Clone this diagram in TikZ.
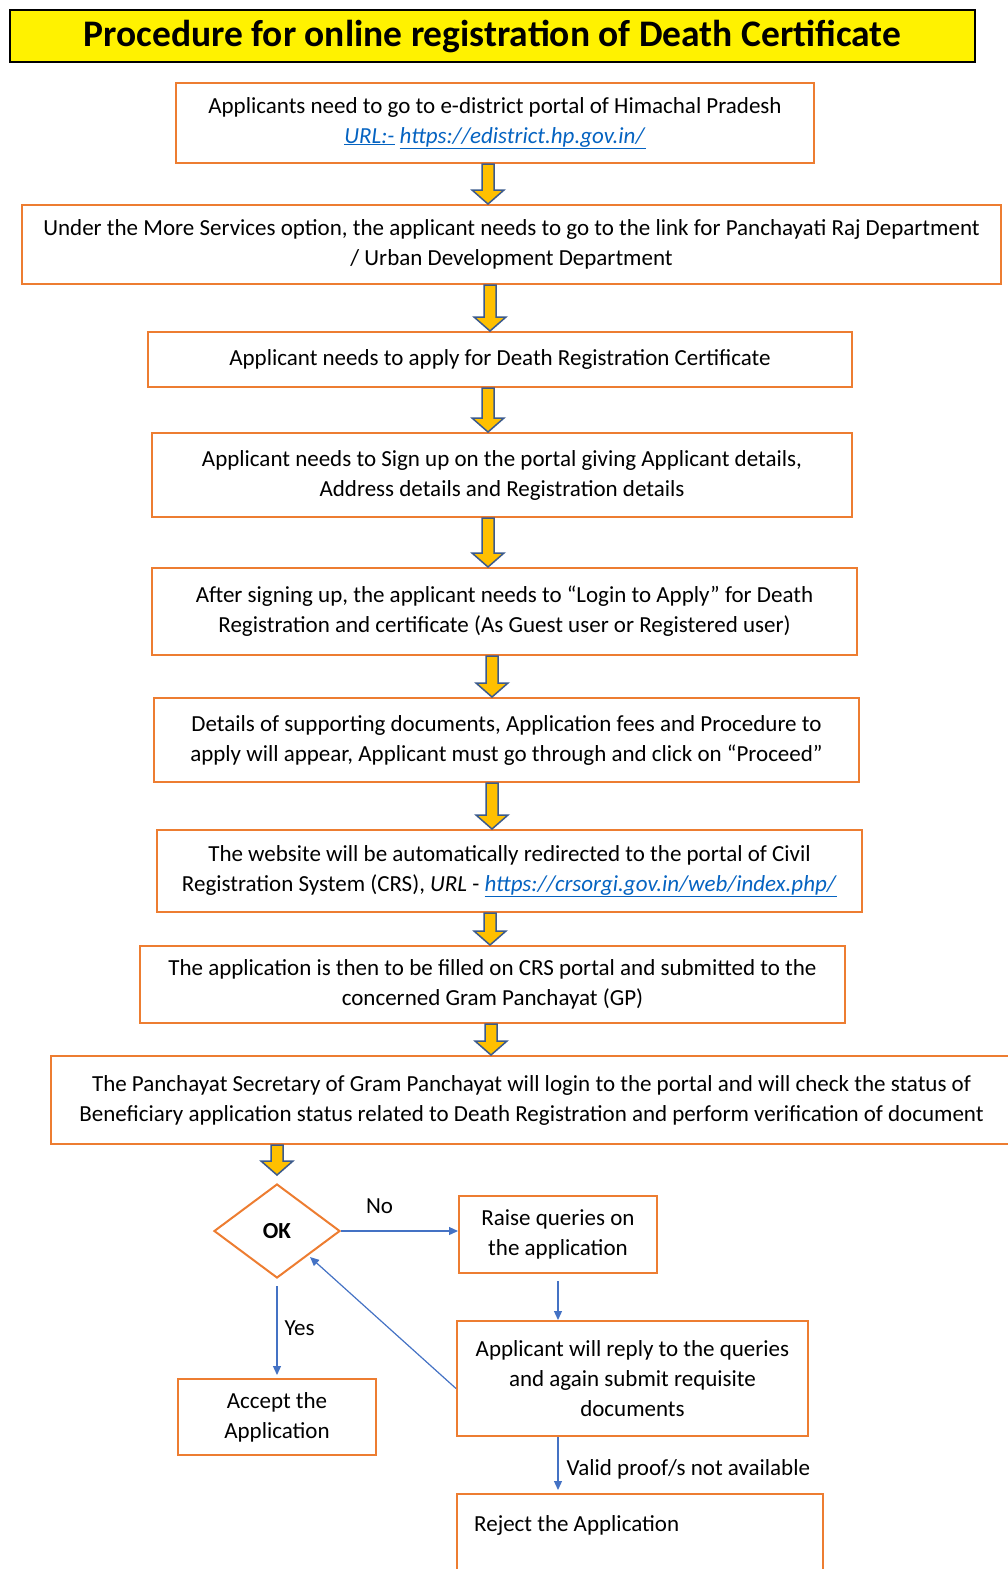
\documentclass[tikz,border=0pt]{standalone}
\usepackage{fontspec}
\setmainfont{Carlito}
\usetikzlibrary{shapes.geometric, arrows.meta, calc}

\newcommand{\weblink}[1]{\textcolor{linkblue}{\underline{\textit{#1}}}}
\newcommand{\yarrow}[3]{%
  \filldraw[blockarrow] let \p1 = (#1, 0), \p2 = (#2), \p3 = (#3) in
    (\x1 - 6pt, \y2) -- (\x1 + 6pt, \y2) -- (\x1 + 6pt, \y3 + 14pt)
    -- (\x1 + 16pt, \y3 + 14pt) -- (\x1, \y3) -- (\x1 - 16pt, \y3 + 14pt)
    -- (\x1 - 6pt, \y3 + 14pt) -- cycle;}

\begin{document}
\begin{tikzpicture}[x=1pt, y=-1pt,
    procbox/.style={draw=boxorange, line width=2pt, rectangle, inner sep=0pt,
        align=center, font=\fontsize{23}{30}\selectfont},
    decision/.style={draw=boxorange, line width=2pt, diamond, inner sep=0pt,
        font=\fontsize{23}{26}\selectfont\bfseries},
    blockarrow/.style={fill=arrowyellow, draw=arrowedge, line width=1.5pt},
    flowline/.style={draw=lineblue, line width=1.2pt, -{Triangle[length=9pt, width=8pt]}},
    flowlabel/.style={font=\fontsize{23}{26}\selectfont, inner sep=0pt}]
\definecolor{boxorange}{HTML}{ED7D31}
\definecolor{arrowyellow}{HTML}{FFC000}
\definecolor{arrowedge}{HTML}{3B5A8C}
\definecolor{lineblue}{HTML}{4472C4}
\definecolor{linkblue}{HTML}{0563C1}

\useasboundingbox (0, 0) rectangle (1008, 1569);

\node[draw=black, line width=2pt, fill=yellow, minimum width=965pt, minimum height=52pt,
    font=\fontsize{37.5}{40}\selectfont\bfseries] (title) at (492.5, 36)
    {Procedure for online registration of Death Certificate};

\node[procbox, minimum width=638pt, minimum height=80pt] (portal) at (495, 123)
    {Applicants need to go to e-district portal of Himachal Pradesh\\
     \weblink{URL:-} \weblink{https://edistrict.hp.gov.in/}};
\node[procbox, minimum width=979pt, minimum height=79pt] (services) at (511.5, 244.5)
    {Under the More Services option, the applicant needs to go to the link for Panchayati Raj Department\\
     / Urban Development Department};
\node[procbox, minimum width=704pt, minimum height=55pt] (apply) at (500, 359.5)
    {Applicant needs to apply for Death Registration Certificate};
\node[procbox, minimum width=700pt, minimum height=84pt] (signup) at (502, 475)
    {Applicant needs to Sign up on the portal giving Applicant details,\\
     Address details and Registration details};
\node[procbox, minimum width=705pt, minimum height=87pt] (login) at (504.5, 611.5)
    {After signing up, the applicant needs to “Login to Apply” for Death\\
     Registration and certificate (As Guest user or Registered user)};
\node[procbox, minimum width=705pt, minimum height=84pt] (details) at (506.5, 740)
    {Details of supporting documents, Application fees and Procedure to\\
     apply will appear, Applicant must go through and click on “Proceed”};
\node[procbox, minimum width=705pt, minimum height=82pt] (redirect) at (509.5, 871)
    {The website will be automatically redirected to the portal of Civil\\
     Registration System (CRS), \textit{URL} - \weblink{https://crsorgi.gov.in/web/index.php/}};
\node[procbox, minimum width=705pt, minimum height=77pt] (submit) at (492.5, 984.5)
    {The application is then to be filled on CRS portal and submitted to the\\
     concerned Gram Panchayat (GP)};
\node[procbox, minimum width=961pt, minimum height=88pt] (verify) at (531.5, 1100)
    {The Panchayat Secretary of Gram Panchayat will login to the portal and will check the status of\\
     Beneficiary application status related to Death Registration and perform verification of document};

\yarrow{488}{portal.south}{services.north}
\yarrow{490}{services.south}{apply.north}
\yarrow{488}{apply.south}{signup.north}
\yarrow{488}{signup.south}{login.north}
\yarrow{492}{login.south}{details.north}
\yarrow{492}{details.south}{redirect.north}
\yarrow{490}{redirect.south}{submit.north}
\yarrow{491}{submit.south}{verify.north}

\node[decision, minimum width=126pt, minimum height=94pt] (ok) at (277, 1231) {OK};
\yarrow{277}{verify.south}{[yshift=8pt]ok.north}

\node[procbox, minimum width=198pt, minimum height=77pt] (queries) at (558, 1234.5)
    {Raise queries on\\the application};
\node[procbox, minimum width=351pt, minimum height=115pt] (reply) at (632.5, 1378.5)
    {Applicant will reply to the queries\\and again submit requisite\\documents};
\node[procbox, minimum width=198pt, minimum height=76pt] (accept) at (277, 1417)
    {Accept the\\Application};
\node[procbox, minimum width=366pt, minimum height=90pt,
    label={[flowlabel, anchor=north west, xshift=18pt, yshift=-22pt]north west:Reject the Application}]
    (reject) at (640, 1539) {};

\draw[flowline] (ok.east) -- (ok.east -| queries.west)
    node[flowlabel, pos=0.33, above=17pt] {No};
\draw[flowline, shorten <=7pt] (queries.south) -- (queries.south |- reply.north);
\draw[flowline] ([yshift=-10pt]reply.west) -- ([xshift=1pt, yshift=-2pt]ok.south east);
\draw[flowline, shorten <=7pt, shorten >=3pt] (ok.south) -- (accept.north)
    node[flowlabel, midway, right=7pt] {Yes};
\draw[flowline, shorten >=3pt] (reply.south -| queries.south) -- (reject.north -| queries.south)
    node[flowlabel, midway, right=8pt, yshift=-4pt] {Valid proof/s not available};

\end{tikzpicture}
\end{document}
